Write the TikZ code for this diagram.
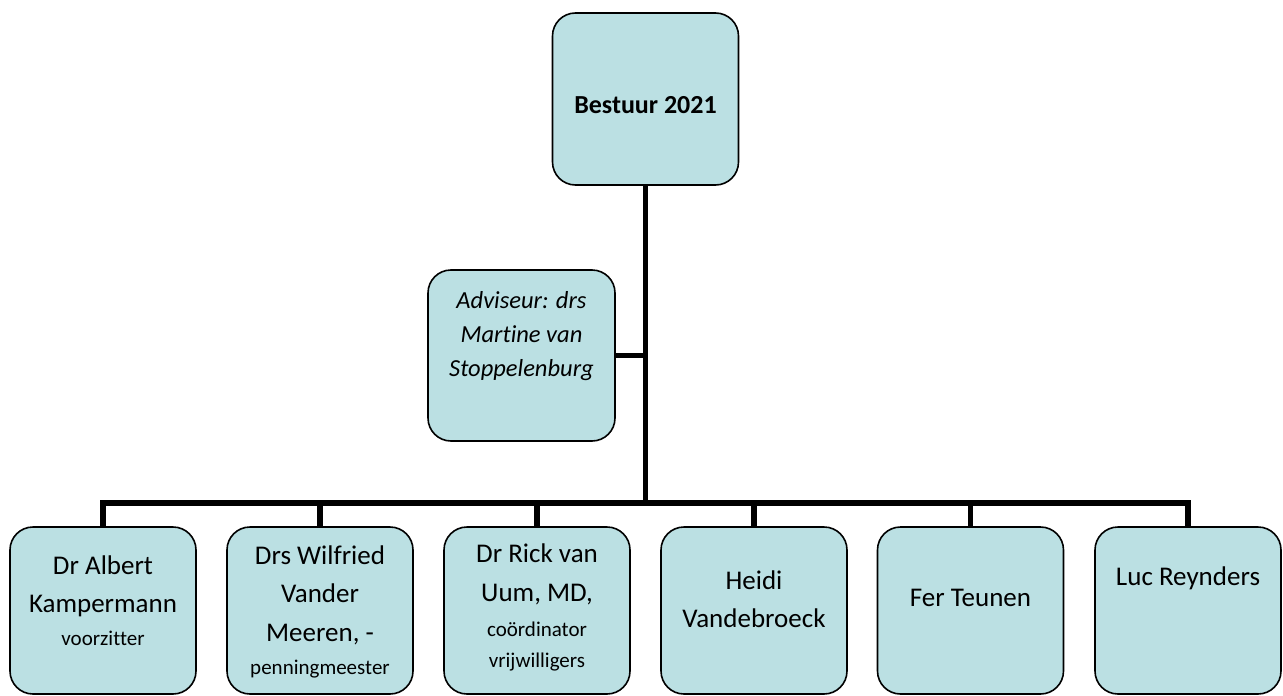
\documentclass[tikz,border=0pt]{standalone}
\usepackage{fontspec}
\setmainfont{Carlito}[Ligatures=NoCommon]
\definecolor{boxfill}{RGB}{187,224,227}
\newcommand{\bigtxt}{\fontsize{27}{38.5}\selectfont}
\newcommand{\smalltxt}{\fontsize{21}{30}\selectfont}
\newcommand{\advtxt}{\fontsize{24.5}{34}\selectfont\itshape}
\begin{document}
\begin{tikzpicture}[x=1pt,y=-1pt,
  orgbox/.style={draw=black, line width=1.6pt, fill=boxfill, rounded corners=23pt,
    minimum width=186pt, inner sep=0pt},
  childbox/.style={orgbox, minimum height=167pt},
  txt/.style={align=center, inner sep=0pt, text=black, font=\bigtxt},
  link/.style={draw=black, line width=5.5pt}]
\useasboundingbox (0,0) rectangle (1283,696);
% boxes
\node[orgbox, minimum height=172pt] (top) at (645.5,99) {};
\node[orgbox, minimum width=187pt, minimum height=171pt] (adv) at (521.5,355.5) {};
\node[childbox] (c1) at (103,610.5) {};
\node[childbox] (c2) at (320,610.5) {};
\node[childbox] (c3) at (537,610.5) {};
\node[childbox] (c4) at (754,610.5) {};
\node[childbox] (c5) at (970.5,610.5) {};
\node[childbox] (c6) at (1188,610.5) {};
\coordinate (j) at (645.5,503);
% connectors
\draw[link] (top.south) -- (j);
\draw[link] (adv.east) -- (adv.east -| j);
\foreach \c in {c1,c2,c3,c4,c5,c6}{\draw[link] (\c.north) |- (j);}
% texts
\node[txt, font=\fontsize{26}{32}\selectfont\bfseries] (ttop) at (645.5,105) {Bestuur 2021};
\node[txt, font=\advtxt] (tadv) at (521.5,336) {Adviseur: drs\\Martine van\\Stoppelenburg};
\node[txt] (t1) at (103,600.5) {Dr Albert\\Kampermann\\[-6pt]{\smalltxt voorzitter}};
\node[txt] (t2) at (320,612) {Drs Wilfried\\Vander\\Meeren, -\\[-5pt]{\smalltxt penningmeester}};
\node[txt] (t3) at (537,607.5) {Dr Rick van\\Uum, MD,\\[-3pt]{\smalltxt co\"ordinator}\\[-8pt]{\smalltxt vrijwilligers}};
\node[txt] (t4) at (754,599) {Heidi\\Vandebroeck};
\node[txt] (t5) at (970.5,598) {Fer Teunen};
\node[txt] (t6) at (1188,578) {Luc Reynders};
\end{tikzpicture}
\end{document}
